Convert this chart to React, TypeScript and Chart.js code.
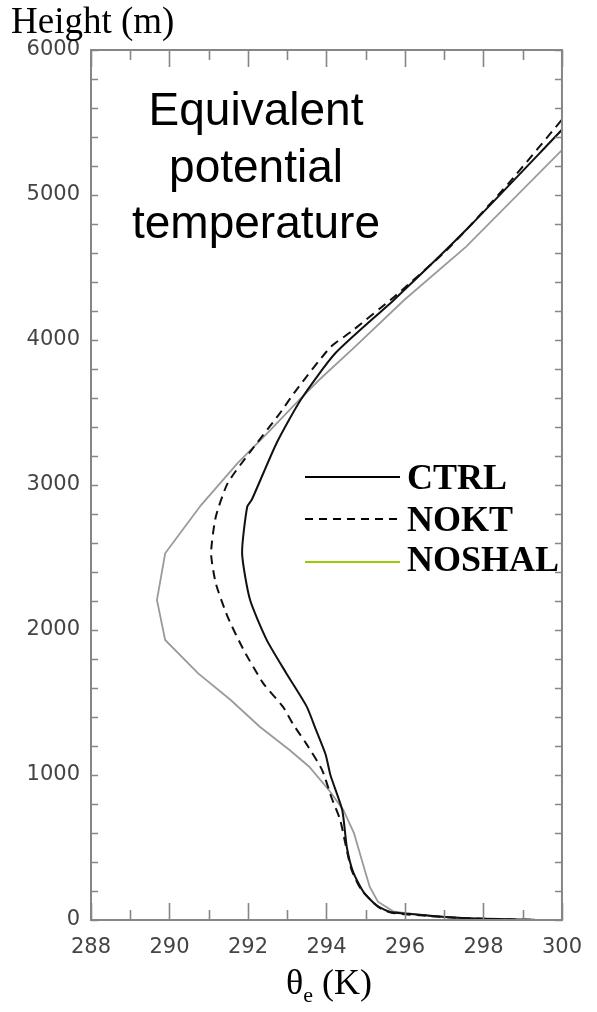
import React, { useEffect, useRef } from 'react';
import { Chart, registerables } from 'chart.js';

Chart.register(...registerables);

// Axis ranges and tick labels
const xTickValues = [288, 290, 292, 294, 296, 298, 300];
const yTickValues = [0, 1000, 2000, 3000, 4000, 5000, 6000];

// Series: equivalent potential temperature (K) vs height (m)
const ctrlTheta = [299.3, 297.6, 296.6, 296.0, 295.62, 295.28, 294.95, 294.68, 294.52, 294.4, 294.1, 293.98, 293.72, 293.5, 292.98, 292.48, 292.05, 291.85, 291.98, 292.1, 292.73, 293.35, 294.23, 295.73, 297.56, 300.0];
const ctrlHeight = [2, 12, 30, 45, 55, 100, 190, 330, 500, 760, 1000, 1140, 1320, 1470, 1700, 1930, 2210, 2530, 2850, 2900, 3290, 3590, 3910, 4280, 4760, 5450];

const noktTheta = [299.2, 297.6, 296.6, 296.0, 295.64, 295.31, 294.89, 294.64, 294.48, 294.35, 294.12, 293.89, 293.48, 293.15, 292.89, 292.39, 291.89, 291.48, 291.18, 291.06, 291.18, 291.48, 292.06, 292.81, 293.23, 294.1, 294.64, 295.73, 296.98, 297.56, 298.64, 300.0];
const noktHeight = [2, 12, 28, 40, 51, 92, 207, 345, 529, 690, 850, 1034, 1218, 1350, 1471, 1632, 1862, 2092, 2322, 2529, 2781, 3011, 3230, 3494, 3655, 3950, 4060, 4299, 4598, 4759, 5080, 5520];

const noshalTheta = [298.2, 297.0, 296.06, 295.7, 295.31, 295.1, 294.9, 294.7, 294.43, 294.06, 293.56, 293.06, 292.3, 291.56, 290.73, 289.89, 289.68, 289.89, 290.8, 291.73, 292.5, 293.14, 293.81, 294.73, 295.98, 297.56, 300.0];
const noshalHeight = [4, 22, 46, 60, 126, 230, 414, 600, 759, 897, 1057, 1172, 1333, 1517, 1701, 1931, 2207, 2529, 2860, 3149, 3360, 3540, 3724, 3954, 4276, 4644, 5310];

const seriesNames = ['CTRL', 'NOKT', 'NOSHAL'];
const annotationLines = ['Equivalent', 'potential', 'temperature'];

const toPoints = (xs: number[], ys: number[]) => xs.map((v, i) => ({ x: v, y: ys[i] }));

const decorPlugin = {
  id: 'decor',
  afterDatasetsDraw(chart: any) {
    const { ctx, chartArea: a, scales } = chart;
    const x = scales.x;
    const y = scales.y;
    ctx.save();
    // frame
    ctx.strokeStyle = '#868686';
    ctx.lineWidth = 2;
    ctx.strokeRect(a.left, a.top, a.right - a.left, a.bottom - a.top);
    // x ticks (inward, top and bottom)
    ctx.lineWidth = 1.6;
    ctx.beginPath();
    for (let v = 288; v <= 300; v += 1) {
      const px = Math.round(x.getPixelForValue(v)) + 0.5;
      const len = v % 2 === 0 ? 17 : 10;
      ctx.moveTo(px, a.bottom);
      ctx.lineTo(px, a.bottom - len);
      ctx.moveTo(px, a.top);
      ctx.lineTo(px, a.top + len);
    }
    // y ticks (inward, left and right)
    for (let v = 0; v <= 6000; v += 200) {
      const py = Math.round(y.getPixelForValue(v)) + 0.5;
      const len = 7;
      ctx.moveTo(a.left, py);
      ctx.lineTo(a.left + len, py);
      ctx.moveTo(a.right, py);
      ctx.lineTo(a.right - len, py);
    }
    ctx.stroke();
    ctx.restore();
  },
  afterDraw(chart: any) {
    const { ctx } = chart;
    ctx.save();
    ctx.fillStyle = '#000';
    // y axis title
    ctx.font = '37px "Liberation Serif", "Times New Roman", serif';
    ctx.textAlign = 'left';
    ctx.textBaseline = 'alphabetic';
    ctx.fillText('Height (m)', 11, 33);
    // x axis title: theta_e (K)
    ctx.font = '36px "Liberation Serif", "Times New Roman", serif';
    const base = 994;
    let cx = 286;
    ctx.fillText('\u03B8', cx, base);
    cx += ctx.measureText('\u03B8').width;
    ctx.font = '22px "Liberation Serif", "Times New Roman", serif';
    ctx.fillText('e', cx, base + 8);
    cx += ctx.measureText('e').width + 4;
    ctx.font = '36px "Liberation Serif", "Times New Roman", serif';
    ctx.fillText(' (K)', cx - 4, base);
    // annotation
    ctx.font = '46px "Liberation Sans", Arial, sans-serif';
    ctx.textAlign = 'center';
    const baselines = [125, 182, 238];
    annotationLines.forEach((t, i) => ctx.fillText(t, 256, baselines[i]));
    // legend
    const lineY = [477, 519, 562];
    const textY = [489, 531, 571];
    const styles = [
      { color: '#000', dash: [] as number[] },
      { color: '#000', dash: [8, 6] },
      { color: '#99cc00', dash: [] as number[] },
    ];
    ctx.textAlign = 'left';
    ctx.font = 'bold 36px "Liberation Serif", "Times New Roman", serif';
    seriesNames.forEach((name, i) => {
      ctx.beginPath();
      ctx.strokeStyle = styles[i].color;
      ctx.lineWidth = 2;
      ctx.setLineDash(styles[i].dash);
      ctx.moveTo(305, lineY[i]);
      ctx.lineTo(400, lineY[i]);
      ctx.stroke();
      ctx.setLineDash([]);
      ctx.fillStyle = '#000';
      ctx.fillText(name, 407, textY[i]);
    });
    ctx.restore();
  },
};

export default function App() {
  const ref = useRef<HTMLCanvasElement | null>(null);
  useEffect(() => {
    if (!ref.current) return;
    const tickFont = { family: '"DejaVu Sans", sans-serif', size: 21 };
    const chart = new Chart(ref.current, {
      type: 'line',
      data: {
        datasets: [
          {
            label: seriesNames[0],
            data: toPoints(ctrlTheta, ctrlHeight),
            borderColor: '#111111',
            borderWidth: 2,
            pointRadius: 0,
            tension: 0.2,
            fill: false,
          },
          {
            label: seriesNames[1],
            data: toPoints(noktTheta, noktHeight),
            borderColor: '#111111',
            borderWidth: 2,
            borderDash: [9, 6],
            pointRadius: 0,
            tension: 0.2,
            fill: false,
          },
          {
            label: seriesNames[2],
            data: toPoints(noshalTheta, noshalHeight),
            borderColor: '#9a9a9a',
            borderWidth: 1.8,
            pointRadius: 0,
            tension: 0,
            fill: false,
          },
        ],
      },
      options: {
        animation: false,
        responsive: false,
        maintainAspectRatio: false,
        parsing: false as any,
        layout: { padding: { top: 50, right: 26, left: 0, bottom: 0 } },
        plugins: {
          legend: { display: false },
          tooltip: { enabled: false },
          title: { display: false },
        },
        scales: {
          x: {
            type: 'linear',
            min: 288,
            max: 300,
            afterFit: (s: any) => { s.height = 92; },
            afterBuildTicks: (s: any) => { s.ticks = xTickValues.map((v) => ({ value: v })); },
            grid: { display: false, drawTicks: false },
            border: { display: false },
            ticks: {
              font: tickFont,
              color: '#444444',
              padding: 15,
              maxRotation: 0,
              callback: (v: any) => String(v),
            },
          },
          y: {
            type: 'linear',
            min: 0,
            max: 6000,
            afterFit: (s: any) => { s.width = 91; },
            afterBuildTicks: (s: any) => { s.ticks = yTickValues.map((v) => ({ value: v })); },
            grid: { display: false, drawTicks: false },
            border: { display: false },
            ticks: {
              font: tickFont,
              color: '#444444',
              padding: 11,
              callback: (v: any) => String(v),
            },
          },
        },
      },
      plugins: [decorPlugin],
    });
    return () => chart.destroy();
  }, []);
  return (
    <div style={{ position: 'absolute', left: 0, top: 0, width: 597, height: 1012, background: '#fff' }}>
      <canvas ref={ref} width={597} height={1012} style={{ display: 'block' }} />
    </div>
  );
}
